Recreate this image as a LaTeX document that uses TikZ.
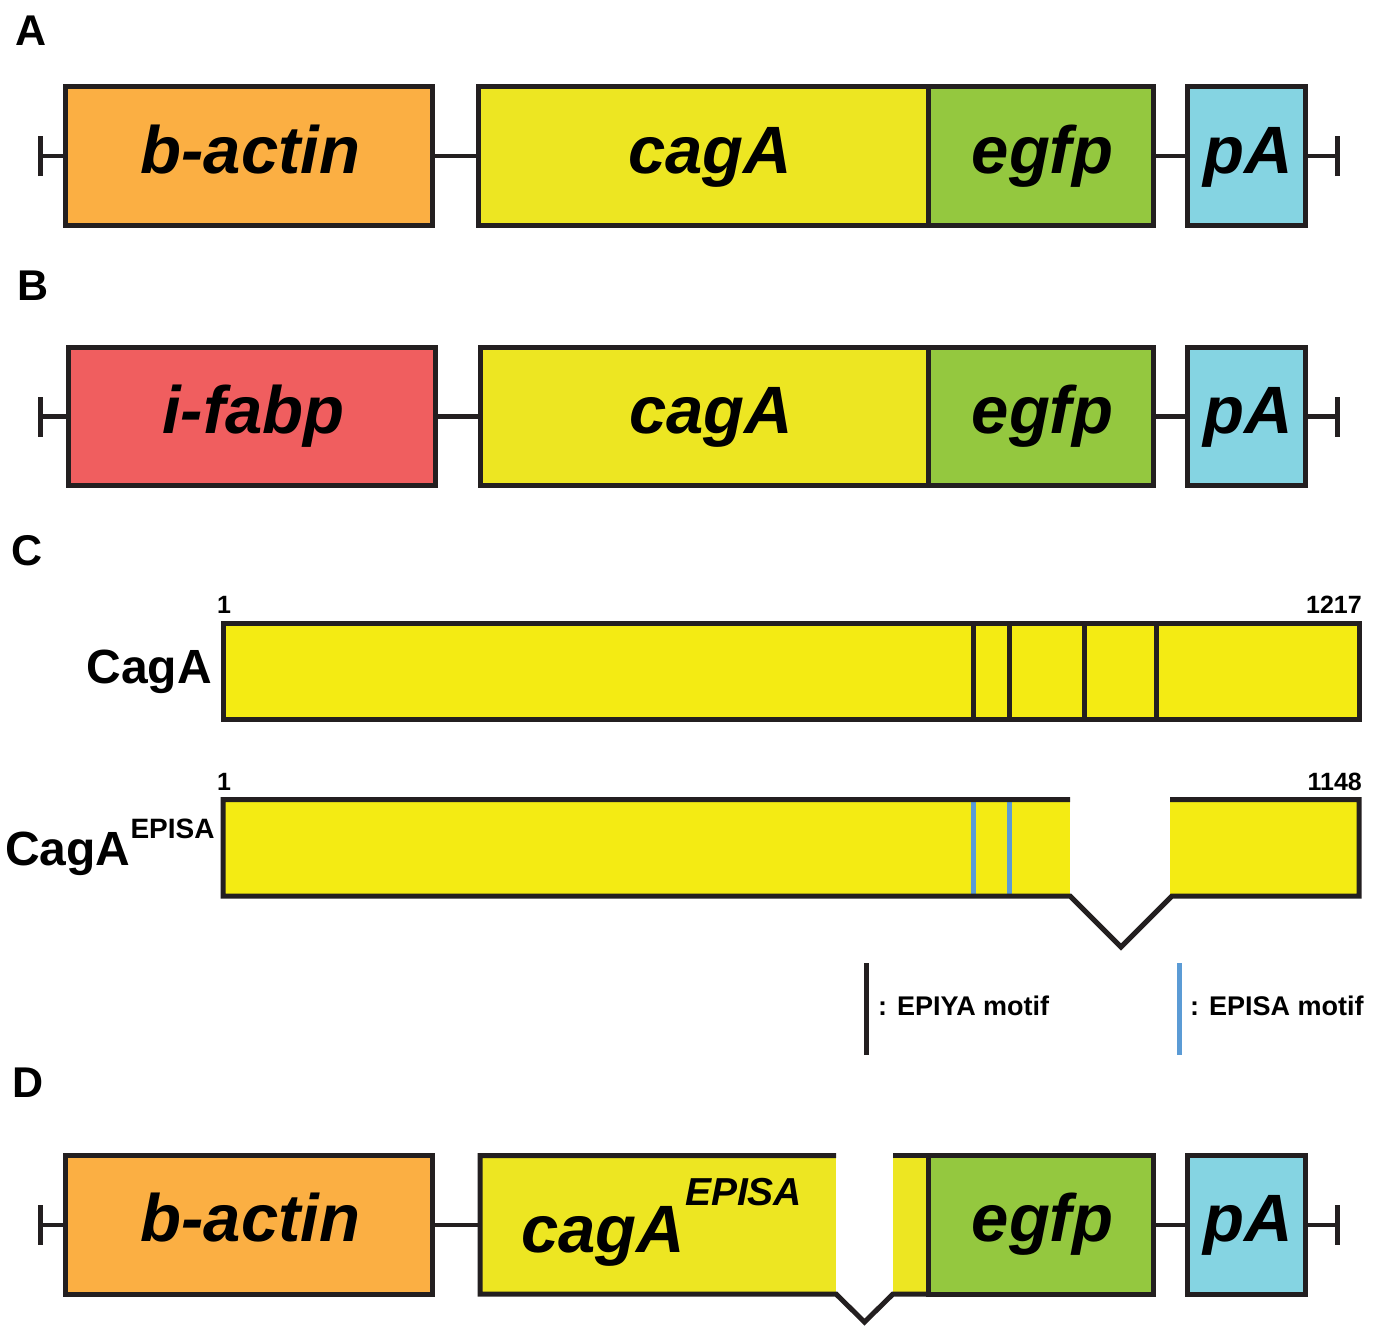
\documentclass[tikz,border=0pt]{standalone}
\usepackage{fontspec}
\setmainfont{Liberation Sans}

\definecolor{outline}{HTML}{231F20}
\definecolor{promoActin}{HTML}{FBAF43}
\definecolor{promoFabp}{HTML}{F05E5F}
\definecolor{geneYellow}{HTML}{EDE622}
\definecolor{protYellow}{HTML}{F4EB13}
\definecolor{gfpGreen}{HTML}{94C83F}
\definecolor{polyACyan}{HTML}{85D4E2}
\definecolor{episaBlue}{HTML}{5B9BD5}

\tikzset{
  gene/.style={draw=outline, line width=5pt, rectangle, inner sep=0pt,
    minimum height=138.5pt, text height=48pt, text depth=14pt,
    execute at begin node={\hspace*{4pt}},
    font=\fontsize{67}{67}\selectfont\bfseries\itshape},
  genewide/.style={gene, execute at begin node={\hspace*{10pt}}},
  link/.style={draw=outline, line width=4.5pt},
  endbar/.style={draw=outline, line width=5pt},
  border/.style={draw=outline, line width=5pt},
  panel/.style={font=\fontsize{43}{43}\selectfont\bfseries, inner sep=0pt, anchor=base west},
  posnum/.style={font=\fontsize{25}{25}\selectfont\bfseries, inner sep=0pt},
  protname/.style={font=\fontsize{48}{48}\selectfont\bfseries, inner sep=0pt},
  legendtext/.style={font=\fontsize{27}{27}\selectfont\bfseries, inner sep=0pt, anchor=base west},
}

\begin{document}
\begin{tikzpicture}[x=1pt,y=-1pt]
\useasboundingbox (0,0) rectangle (1382,1326);

% ---------------- A: b-actin promoter construct ----------------
\node[panel] (labA) at (15,45) {A};
\coordinate (tA1) at (40,156);
\coordinate (tA2) at (1337,156);
\node[gene, fill=promoActin, minimum width=367pt] (actA) at (248.5,156) {b-actin};
\node[genewide, fill=geneYellow, minimum width=450pt] (cagA1) at (703,156) {cagA};
\node[gene, fill=gfpGreen, minimum width=225pt] (gfpA) at (1040.5,156) {egfp};
\node[gene, fill=polyACyan, minimum width=118pt] (pAA) at (1246,156) {pA};
\draw[link] (tA1) -- (actA.west);
\draw[link] (actA.east) -- (cagA1.west);
\draw[link] (gfpA.east) -- (pAA.west);
\draw[link] (pAA.east) -- (tA2);
\draw[endbar] ([yshift=-20pt]tA1) -- ([yshift=20pt]tA1);
\draw[endbar] ([yshift=-20pt]tA2) -- ([yshift=20pt]tA2);

% ---------------- B: i-fabp promoter construct ----------------
\node[panel] (labB) at (17,300) {B};
\coordinate (tB1) at (40,416.5);
\coordinate (tB2) at (1337,416.5);
\node[gene, fill=promoFabp, minimum width=367pt] (fabB) at (251.5,416.5) {i-fabp};
\node[genewide, fill=geneYellow, minimum width=448pt] (cagB) at (704,416.5) {cagA};
\node[gene, fill=gfpGreen, minimum width=225pt] (gfpB) at (1040.5,416.5) {egfp};
\node[gene, fill=polyACyan, minimum width=118pt] (pAB) at (1246,416.5) {pA};
\draw[link] (tB1) -- (fabB.west);
\draw[link] (fabB.east) -- (cagB.west);
\draw[link] (gfpB.east) -- (pAB.west);
\draw[link] (pAB.east) -- (tB2);
\draw[endbar] ([yshift=-20pt]tB1) -- ([yshift=20pt]tB1);
\draw[endbar] ([yshift=-20pt]tB2) -- ([yshift=20pt]tB2);

% ---------------- C: CagA proteins ----------------
\node[panel] (labC) at (11,565) {C};

% wild-type CagA with four EPIYA motifs
\node[posnum, anchor=base west] (startWT) at (217,613) {1};
\node[posnum, anchor=base east] (endWT) at (1362,613) {1217};
\node[protname, anchor=base east] (nameWT) at (212,683) {CagA};
\node[border, fill=protYellow, rectangle, inner sep=0pt,
      minimum width=1136pt, minimum height=96pt] (barWT) at (791,671.5) {};
\foreach \mx in {973.5,1009.5,1084.5,1156.5}
  \draw[border] (\mx,623.5) -- (\mx,719.5);

% CagA-EPISA with a deleted segment
\node[posnum, anchor=base west] (startEP) at (217,790) {1};
\node[posnum, anchor=base east] (endEP) at (1362,790) {1148};
\node[protname, anchor=base west] (nameEP) at (5,865)
  {CagA\raisebox{27pt}{\fontsize{28}{28}\selectfont EPISA}};
\fill[protYellow] (223,799.5) rectangle (1070,896);
\fill[protYellow] (1170,799.5) rectangle (1359,896);
\foreach \mx in {973.5,1009}
  \draw[episaBlue, line width=5pt] (\mx,802) -- (\mx,893.5);
\draw[border, line join=miter] (1070,799.5) -- (223,799.5) -- (223,896) -- (1070,896)
  -- (1121,947) -- (1172,896) -- (1359,896) -- (1359,799.5) -- (1170,799.5);

% legend
\draw[border] (866.5,963) -- (866.5,1055);
\node[legendtext] (legY) at (878,1015) {: EPIYA motif};
\draw[episaBlue, line width=5pt] (1179,963) -- (1179,1055);
\node[legendtext] (legS) at (1190,1015) {: EPISA motif};

% ---------------- D: b-actin / cagA-EPISA construct ----------------
\node[panel] (labD) at (12,1097) {D};
\coordinate (tD1) at (40,1224.75);
\coordinate (tD2) at (1337,1224.75);
\node[gene, fill=promoActin, minimum width=367pt] (actD) at (248.5,1224.75) {b-actin};
\node[inner sep=0pt, minimum width=448pt, minimum height=138.5pt] (cagD) at (704,1224.75) {};
\fill[geneYellow] (480,1155.5) rectangle (836,1294);
\fill[geneYellow] (893,1155.5) rectangle (928,1294);
\draw[border, line join=miter] (836,1155.5) -- (480,1155.5) -- (480,1294) -- (836,1294)
  -- (864.5,1322) -- (893,1294) -- (928,1294);
\draw[border] (893,1155.5) -- (928,1155.5);
\node[inner sep=0pt, anchor=base west, font=\fontsize{67}{67}\selectfont\bfseries\itshape]
  (cagDtext) at (521,1252) {cagA\raisebox{47pt}{\fontsize{39}{39}\selectfont EPISA}};
\node[gene, fill=gfpGreen, minimum width=225pt] (gfpD) at (1040.5,1224.75) {egfp};
\node[gene, fill=polyACyan, minimum width=118pt] (pAD) at (1246,1224.75) {pA};
\draw[link] (tD1) -- (actD.west);
\draw[link] (actD.east) -- (cagD.west);
\draw[link] (gfpD.east) -- (pAD.west);
\draw[link] (pAD.east) -- (tD2);
\draw[endbar] ([yshift=-20pt]tD1) -- ([yshift=20pt]tD1);
\draw[endbar] ([yshift=-20pt]tD2) -- ([yshift=20pt]tD2);
\end{tikzpicture}
\end{document}
